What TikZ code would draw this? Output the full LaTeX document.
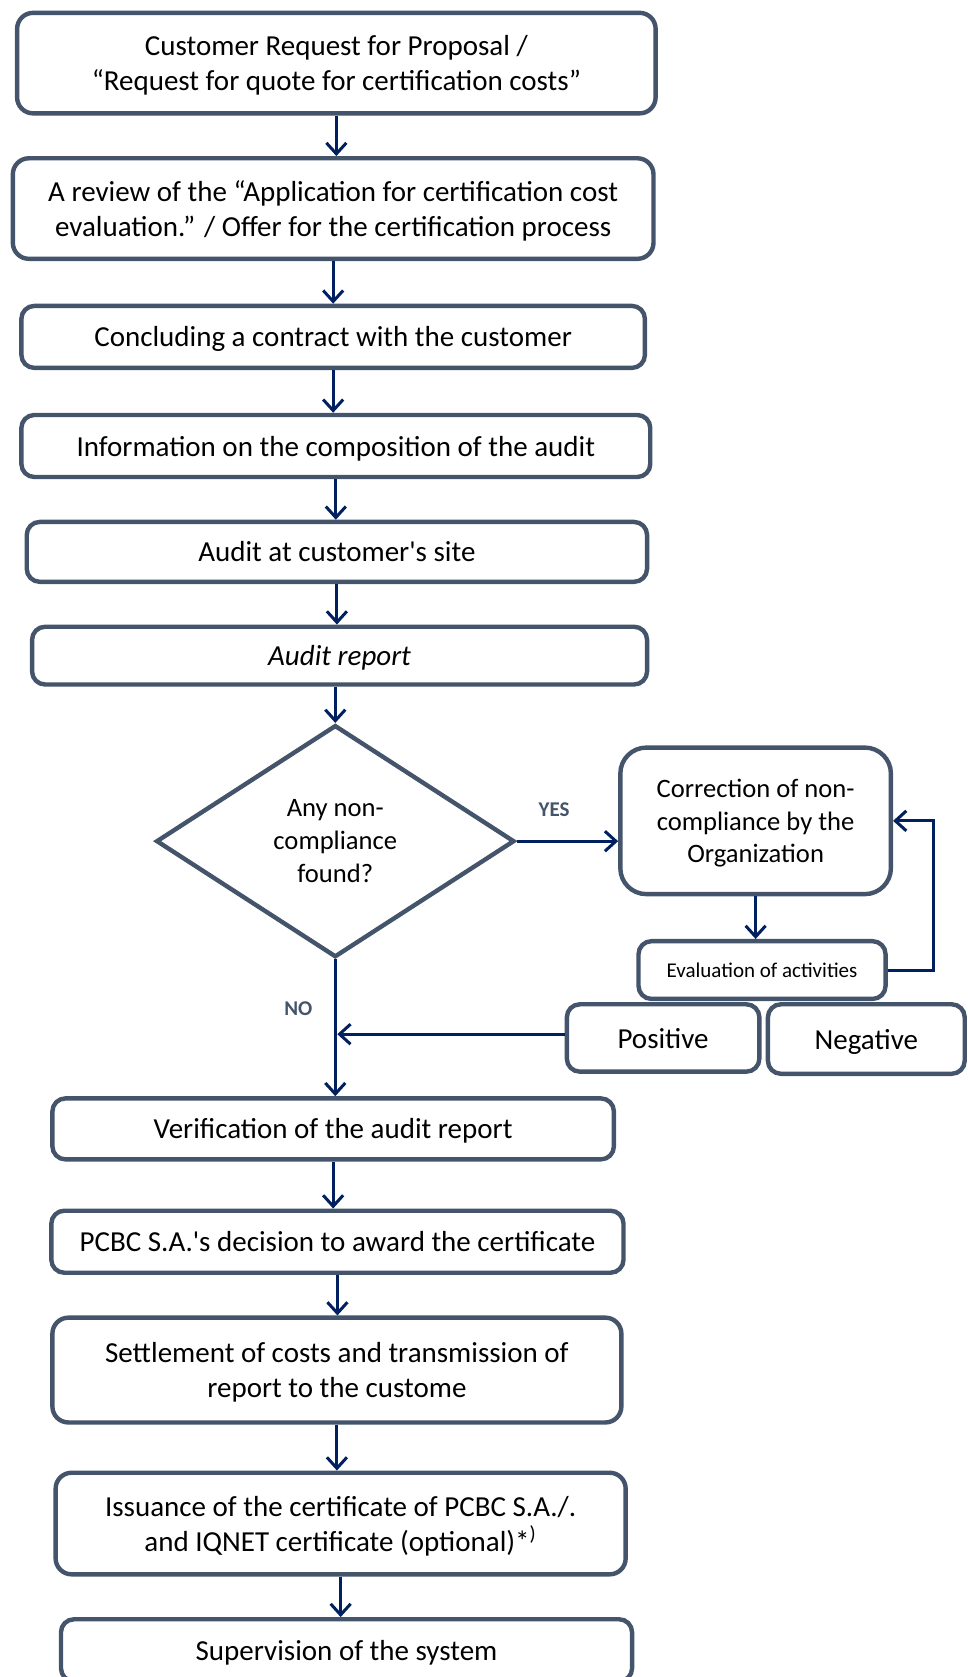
\documentclass[tikz,border=0pt]{standalone}
\usepackage{fontspec}
\setmainfont{Carlito}[Ligatures=TeXOff]
\usetikzlibrary{arrows.meta,shapes.geometric,calc}
\definecolor{slate}{RGB}{68,84,106}
\definecolor{navy}{RGB}{0,32,96}
\begin{document}
\begin{tikzpicture}[x=0.5348pt,y=-0.5348pt,
  box/.style={draw=slate, line width=2.2pt, rounded corners=6.5pt, fill=white, align=center, inner sep=0pt, text depth=0pt, font=\fontsize{14.5}{17.6}\selectfont},
  wh/.style 2 args={minimum width=#1*0.5348pt, minimum height=#2*0.5348pt},
  arr/.style={draw=navy, line width=1.5pt, -{Straight Barb[length=5.5pt,width=10pt]}},
  lbl/.style={text=slate, font=\fontsize{10.5}{12}\selectfont\bfseries}]
\useasboundingbox (0,0) rectangle (905,1568);

\node[box, rounded corners=8pt, wh={597}{94}] (b1) at (314.5,59) {Customer Request for Proposal /\\“Request for quote for certification costs”};
\node[box, rounded corners=8pt, wh={599}{94}] (b2) at (311.5,195) {A review of the “Application for certification cost\\evaluation.” / Offer for the certification process};
\node[box, wh={583}{58}] (b3) at (311.5,315) {Concluding a contract with the customer};
\node[box, wh={588}{58}] (b4) at (314,417) {Information on the composition of the audit};
\node[box, wh={580}{56}] (b5) at (315,516) {Audit at customer's site};
\node[box, wh={575}{54}] (b6) at (317.5,613) {\itshape Audit report};

\node[draw=slate, line width=2.2pt, shape=diamond, minimum width=335*0.5348pt, minimum height=217*0.5348pt, inner sep=0pt, align=center, text depth=0pt, font=\fontsize{13.3}{16.5}\selectfont] (dia) at (313.5,786.5) {Any non-\\compliance\\found?};

\node[box, rounded corners=13pt, wh={253}{137}, font=\fontsize{13.3}{16.2}\selectfont] (corr) at (706.5,767.5) {Correction of non-\\compliance by the\\Organization};
\node[box, wh={231}{54}, font=\fontsize{10.5}{12.6}\selectfont] (eval) at (712.5,907) {Evaluation of activities};
\node[box, wh={180}{63}] (pos) at (620,970.5) {Positive};
\node[box, wh={184}{65}] (neg) at (810,971.5) {Negative};

\node[lbl] (yes) at (518,757) {YES};
\node[lbl] (no) at (279,943) {NO};

\node[box, wh={525}{57}] (ver) at (311.5,1055.5) {Verification of the audit report};
\node[box, wh={535}{58}] (dec) at (315.5,1161) {PCBC S.A.'s decision to award the certificate};
\node[box, rounded corners=8pt, wh={532}{98}] (set) at (315,1281) {Settlement of costs and transmission of\\report to the custome};
\node[box, rounded corners=8pt, wh={533}{95}] (iss) at (318.5,1424.5) {Issuance of the certificate of PCBC S.A./.\\and IQNET certificate (optional)*\textsuperscript{)}};
\node[box, wh={534}{58}] (sup) at (324,1543) {Supervision of the system};

\draw[arr] (b1.south) -- (b1.south |- b2.north);
\draw[arr] (b2.south) -- (b2.south |- b3.north);
\draw[arr] (b3.south) -- (b3.south |- b4.north);
\draw[arr] (b4.south) -- (b4.south |- b5.north);
\draw[arr] (b5.south) -- (b5.south |- b6.north);
\draw[arr] (b6.south -| dia.north) -- (dia.north);
\draw[arr] (dia.east) -- (dia.east -| corr.west);
\draw[arr] (corr.south) -- (corr.south |- eval.north);
\draw[arr] (eval.east) -- ++(43,0) |- (corr.east);
\draw[arr] ([yshift=1.9pt]pos.west) -- ([yshift=1.9pt,xshift=1pt]pos.west -| dia.south);
\draw[arr] (dia.south) -- (dia.south |- ver.north);
\draw[arr] (ver.south) -- (ver.south |- dec.north);
\draw[arr] (dec.south) -- (dec.south |- set.north);
\draw[arr] (set.south) -- (set.south |- iss.north);
\draw[arr] (iss.south) -- (iss.south |- sup.north);
\end{tikzpicture}
\end{document}
